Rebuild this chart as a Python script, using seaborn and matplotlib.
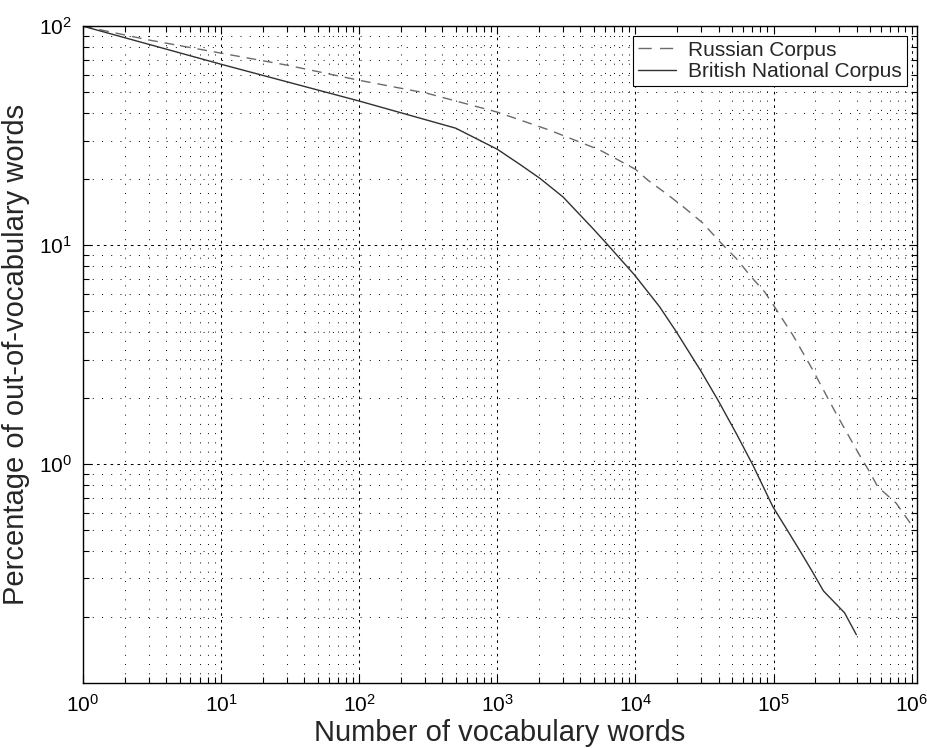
import numpy as np
import pandas as pd
import seaborn as sns
import matplotlib.pyplot as plt
from matplotlib.ticker import LogLocator, FixedLocator, NullFormatter

# values (log-log)
bnc_words = [1, 10, 100, 500, 1000, 1453, 2030, 2990, 4925, 6330, 9860,
             14960, 19770, 30000, 39550, 53700, 70800, 98900, 123600,
             154000, 188000, 230000, 327000, 398000]
bnc_oov = [100, 67, 45.5, 34.2, 27.4, 23.4, 20.2, 16.6, 11.9, 10.0, 7.3,
           5.23, 4.02, 2.64, 1.96, 1.38, 0.99, 0.638, 0.508,
           0.405, 0.328, 0.263, 0.209, 0.166]

rus_words = [1, 3.05, 10, 29.9, 100, 309, 1000, 2390, 5510, 10000, 12300,
             16700, 22100, 30800, 41800, 53700, 68900, 86100, 101600, 138000,
             192300, 283800, 419000, 495000, 568500, 773000, 1020000]
rus_oov = [100, 86.3, 75.3, 66.4, 56.6, 49.4, 40.5, 33.5, 27.2, 22.2, 19.8,
           17.2, 15.0, 12.6, 10.2, 8.69, 7.16, 6.12, 5.23, 3.88,
           2.69, 1.70, 1.10, 0.923, 0.787, 0.662, 0.517]

df_rus = pd.DataFrame({'words': rus_words, 'oov': rus_oov})
df_bnc = pd.DataFrame({'words': bnc_words, 'oov': bnc_oov})

sns.set_style('white')
plt.rcParams['font.family'] = ['Liberation Sans', 'DejaVu Sans']

fig = plt.figure(figsize=(9.27, 7.48), dpi=100)
ax = fig.add_axes([0.0895, 0.087, 0.8995, 0.878])

sns.lineplot(data=df_rus, x='words', y='oov', ax=ax, estimator=None, sort=False,
             color='#6a6a6a', linewidth=1.0, label='Russian Corpus')
sns.lineplot(data=df_bnc, x='words', y='oov', ax=ax, estimator=None, sort=False,
             color='#303030', linewidth=1.0, label='British National Corpus')
ax.lines[0].set_linestyle((0, (7, 5)))

ax.set_xscale('log')
ax.set_yscale('log')
ax.set_xlim(1, 1.09e6)
ax.set_ylim(0.1, 100)

ax.xaxis.set_major_locator(FixedLocator([1e0, 1e1, 1e2, 1e3, 1e4, 1e5, 1e6]))
ax.yaxis.set_major_locator(FixedLocator([1, 10, 100]))
ax.xaxis.set_minor_locator(LogLocator(base=10, subs=np.arange(2, 10), numticks=50))
ax.yaxis.set_minor_locator(LogLocator(base=10, subs=np.arange(2, 10), numticks=50))
ax.xaxis.set_minor_formatter(NullFormatter())
ax.yaxis.set_minor_formatter(NullFormatter())

# matlab-style dotted grid
ax.grid(True, which='major', color='black', linestyle=(0, (2.5, 4)), linewidth=0.75)
ax.grid(True, which='minor', color='black', linestyle=(0, (1, 8.5)), linewidth=0.7)

ax.tick_params(which='both', direction='in', top=True, right=True,
               bottom=True, left=True, colors='black')
ax.tick_params(which='major', length=6, width=0.8, labelsize=15, pad=8)
ax.tick_params(which='minor', length=4, width=0.8)
for s in ax.spines.values():
    s.set_color('black')
    s.set_linewidth(1.0)

ax.set_xlabel('Number of vocabulary words', fontsize=21, labelpad=2)
ax.set_ylabel('Percentage of out-of-vocabulary words', fontsize=21, labelpad=6)

leg = ax.legend(loc='upper right', fontsize=15, frameon=True, fancybox=False,
                edgecolor='black', framealpha=1, borderaxespad=0.45,
                handlelength=1.8, handletextpad=0.6, borderpad=0.25,
                labelspacing=0.1)
leg.get_frame().set_linewidth(0.8)
leg.legend_handles[0].set_linestyle((0, (9.5, 6)))

fig.savefig('out.png', dpi=100)
